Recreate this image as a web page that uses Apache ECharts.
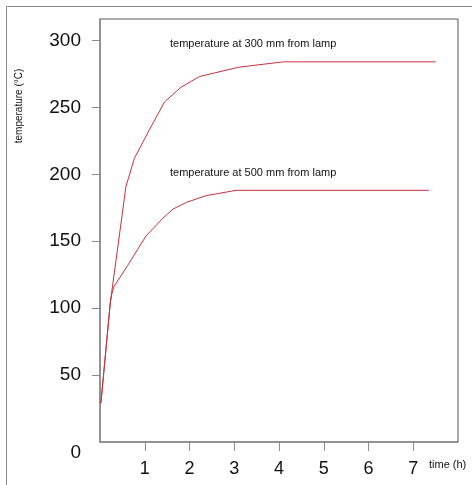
<!DOCTYPE html>
<html>
<head>
<meta charset="utf-8">
<script src="https://cdn.jsdelivr.net/npm/echarts@6/dist/echarts.min.js"></script>
<style>
  html, body { margin: 0; padding: 0; background: #fff; }
  #chart { width: 472px; height: 485px; }
</style>
</head>
<body>
<div id="chart"></div>
<script>
// temperature curves
var time300 = [0.02, 0.23, 0.58, 0.77, 1.1, 1.44, 1.81, 2.22, 3.1, 4.1, 7.5];
var temp300 = [29, 104, 191, 212, 233, 254, 265, 273, 280, 284, 284];
var time500 = [0.02, 0.23, 0.26, 0.31, 0.62, 1.03, 1.4, 1.63, 1.93, 2.37, 3.04, 7.35];
var temp500 = [29, 104, 110, 116, 132, 154, 167, 174, 179, 184, 188, 188];
var xTicks = [1, 2, 3, 4, 5, 6, 7];
var yTicks = [50, 100, 150, 200, 250, 300];
var yLabels = [0, 50, 100, 150, 200, 250, 300];

function pairs(xs, ys) {
  var out = [];
  for (var i = 0; i < xs.length; i++) out.push([xs[i], ys[i]]);
  return out;
}

var font = 'Liberation Sans, Arial, sans-serif';
var red = '#c8323c';

var myChart = echarts.init(document.getElementById('chart'));
var option = {
  animation: false,
  backgroundColor: '#fff',
  grid: {
    left: 100, top: 19, right: 14, bottom: 43,
    show: true, borderColor: '#555', borderWidth: 1
  },
  xAxis: {
    type: 'value', min: 0, max: 8,
    axisLine: { show: true, onZero: false, lineStyle: { color: '#8a8a8a', width: 1.5 } },
    axisTick: { show: true, length: 9, customValues: xTicks, lineStyle: { color: '#8a8a8a' } },
    axisLabel: { customValues: xTicks, margin: 18, fontSize: 18, color: '#111', fontFamily: font },
    splitLine: { show: false }
  },
  yAxis: {
    type: 'value', min: 0, max: 316,
    axisLine: { show: true, lineStyle: { color: '#8a8a8a', width: 1.5 } },
    axisTick: { show: true, length: 8, customValues: yTicks, lineStyle: { color: '#8a8a8a' } },
    axisLabel: {
      customValues: yLabels, margin: 19, fontSize: 19, color: '#111', fontFamily: font,
      formatter: function (v) { return v === 0 ? '{z|0}' : String(v); },
      rich: { z: { fontSize: 19, color: '#111', fontFamily: font, padding: [21, 0, 0, 0] } }
    },
    splitLine: { show: false }
  },
  series: [
    {
      name: '300 mm', type: 'line', data: pairs(time300, temp300),
      showSymbol: false, lineStyle: { color: red, width: 1 }
    },
    {
      name: '500 mm', type: 'line', data: pairs(time500, temp500),
      showSymbol: false, lineStyle: { color: red, width: 1 }
    }
  ],
  graphic: [
    { type: 'rect', shape: { x: 6.5, y: 6.5, width: 480, height: 500 },
      style: { fill: null, stroke: '#8a8a8a', lineWidth: 1 }, silent: true },
    { type: 'text', x: 170, y: 44, style: { text: 'temperature at 300 mm from lamp',
      fontSize: 11, fontFamily: font, fill: '#111', verticalAlign: 'middle' } },
    { type: 'text', x: 170, y: 173, style: { text: 'temperature at 500 mm from lamp',
      fontSize: 11, fontFamily: font, fill: '#111', verticalAlign: 'middle' } },
    { type: 'text', x: 429, y: 465, style: { text: 'time (h)',
      fontSize: 11, fontFamily: font, fill: '#111', verticalAlign: 'middle' } },
    { type: 'text', x: 19, y: 106, rotation: Math.PI / 2, style: { text: 'temperature (°C)',
      fontSize: 10, fontFamily: font, fill: '#111', align: 'center', verticalAlign: 'middle' } }
  ]
};
myChart.setOption(option);
</script>
</body>
</html>
